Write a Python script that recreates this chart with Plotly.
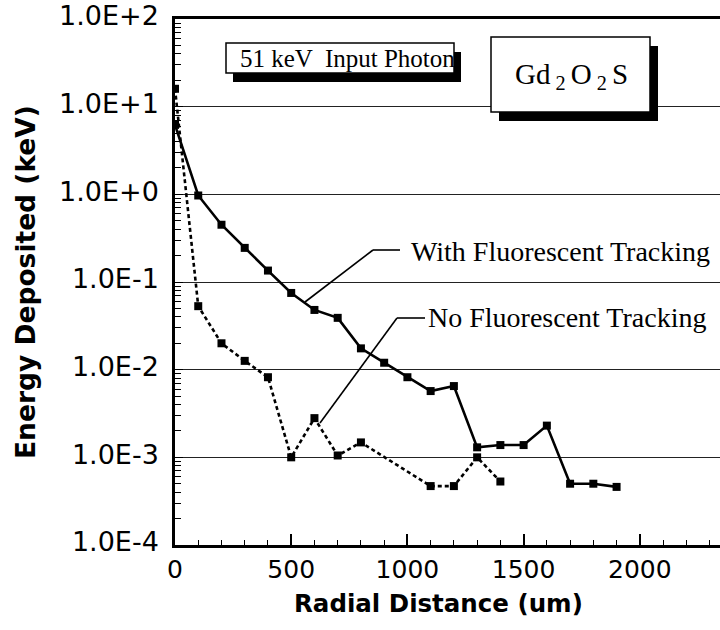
import plotly.graph_objects as go

# Radial energy deposition profile in Gd2O2S for a 51 keV input photon
radial_with = [0, 100, 200, 300, 400, 500, 600, 700, 800, 900, 1000,
               1100, 1200, 1300, 1400, 1500, 1600, 1700, 1800, 1900]
energy_with = [6.2, 0.97, 0.45, 0.245, 0.135, 0.075, 0.048, 0.039, 0.0175,
               0.012, 0.0082, 0.0057, 0.0065, 0.0013, 0.00138, 0.00138,
               0.0023, 0.0005, 0.0005, 0.00046]

radial_no = [0, 100, 200, 300, 400, 500, 600, 700, 800, 1100, 1200, 1300, 1400]
energy_no = [16.0, 0.053, 0.0200, 0.0126, 0.0082, 0.0010, 0.0028, 0.00105,
             0.00148, 0.00047, 0.00047, 0.0010, 0.00053]

y_tick_vals = [1e-4, 1e-3, 1e-2, 1e-1, 1e0, 1e1, 1e2]
y_tick_text = ["1.0E-4", "1.0E-3", "1.0E-2", "1.0E-1", "1.0E+0", "1.0E+1", "1.0E+2"]
x_tick_vals = [0, 500, 1000, 1500, 2000]

W, H = 720, 630
L, R, T, B = 175, 0, 19, 85
PW, PH = W - L - R, H - T - B


def px(x):
    return (x - L) / PW


def py(y):
    return (H - B - y) / PH


SANS = "DejaVu Sans"
SERIF = "Liberation Serif"

fig = go.Figure()
fig.add_trace(go.Scatter(
    x=radial_with, y=energy_with, mode="lines+markers",
    name="With Fluorescent Tracking",
    line=dict(color="black", width=2.6),
    marker=dict(symbol="square", size=8, color="black"),
))
fig.add_trace(go.Scatter(
    x=radial_no, y=energy_no, mode="lines+markers",
    name="No Fluorescent Tracking",
    line=dict(color="black", width=2.6, dash="4px,3px"),
    marker=dict(symbol="square", size=8, color="black"),
))

shapes = []
# framed labels with drop shadows
for (x0, y0, x1, y1, dx, dy) in [(226, 43, 454, 73, 7, 9), (491, 37, 650, 112, 8, 9)]:
    shapes.append(dict(type="rect", xref="paper", yref="paper",
                       x0=px(x0 + dx), x1=px(x1 + dx), y0=py(y1 + dy), y1=py(y0 + dy),
                       fillcolor="black", line=dict(width=0), layer="above"))
    shapes.append(dict(type="rect", xref="paper", yref="paper",
                       x0=px(x0), x1=px(x1), y0=py(y1), y1=py(y0),
                       fillcolor="white", line=dict(color="black", width=1.5), layer="above"))

# leader lines for the series labels
for pts in [[(305, 302), (373, 250), (400, 250)], [(320, 423), (397, 318), (425, 318)]]:
    for (a, b) in zip(pts[:-1], pts[1:]):
        shapes.append(dict(type="line", xref="paper", yref="paper",
                           x0=px(a[0]), y0=py(a[1]), x1=px(b[0]), y1=py(b[1]),
                           line=dict(color="black", width=1.6), layer="above"))

annotations = [
    dict(text="51 keV  Input Photon", x=px(347), y=py(58), xref="paper", yref="paper",
         showarrow=False, font=dict(family=SERIF, size=25, color="black"),
         xanchor="center", yanchor="middle"),
    dict(text="Gd<sub> 2 </sub>O<sub> 2 </sub>S", x=px(571), y=py(76), xref="paper", yref="paper",
         showarrow=False, font=dict(family=SERIF, size=29, color="black"),
         xanchor="center", yanchor="middle"),
    dict(text="With Fluorescent Tracking", x=px(409), y=py(251), xref="paper", yref="paper",
         showarrow=False, font=dict(family=SERIF, size=28, color="black"),
         xanchor="left", yanchor="middle"),
    dict(text="No Fluorescent Tracking", x=px(426), y=py(318), xref="paper", yref="paper",
         showarrow=False, font=dict(family=SERIF, size=28, color="black"),
         xanchor="left", yanchor="middle"),
    dict(text="<b>Radial Distance (um)</b>", x=px(438), y=py(603), xref="paper", yref="paper",
         showarrow=False, font=dict(family=SANS, size=24.5, color="black"),
         xanchor="center", yanchor="middle"),
    dict(text="<b>Energy Deposited (keV)</b>", x=px(25), y=py(282), xref="paper", yref="paper",
         showarrow=False, textangle=-90, font=dict(family=SANS, size=26.5, color="black"),
         xanchor="center", yanchor="middle"),
]

fig.update_layout(
    width=W, height=H,
    margin=dict(l=L, r=R, t=T, b=B),
    paper_bgcolor="white", plot_bgcolor="white",
    showlegend=False,
    shapes=shapes, annotations=annotations,
    xaxis=dict(
        range=[0, 2345], tickvals=x_tick_vals,
        showgrid=False, zeroline=False,
        showline=True, linecolor="black", linewidth=2.5, mirror=True,
        ticks="inside", ticklen=11, tickwidth=1.5, tickcolor="black",
        minor=dict(dtick=100, ticks="inside", ticklen=5, tickwidth=1.2, tickcolor="black"),
        tickfont=dict(family=SANS, size=25, color="black"),
    ),
    yaxis=dict(
        type="log", range=[-4, 2],
        tickvals=y_tick_vals, ticktext=y_tick_text,
        showgrid=True, gridcolor="#222222", gridwidth=1.2,
        zeroline=False,
        showline=True, linecolor="black", linewidth=2.5,
        ticks="inside", ticklen=8, tickwidth=1.2, tickcolor="black",
        minor=dict(dtick="D1", ticks="inside", ticklen=6, tickwidth=1, tickcolor="black",
                   showgrid=False),
        ticklabelstandoff=8, ticklabelshift=-3,
        tickfont=dict(family=SANS, size=27, color="black"),
    ),
)

fig.write_html("out.html")
